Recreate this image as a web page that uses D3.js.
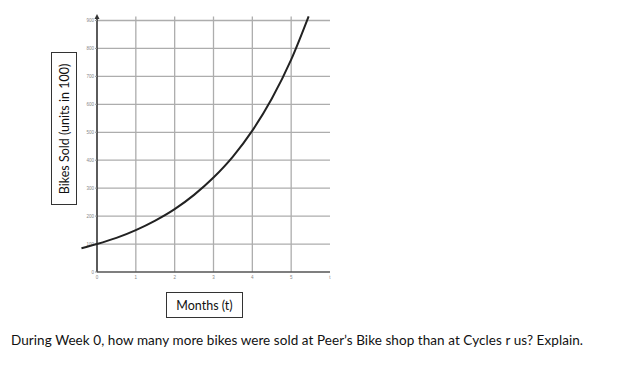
<!DOCTYPE html>
<html><head><meta charset="utf-8">
<script src="https://cdn.jsdelivr.net/npm/d3@7"></script>
<style>body{margin:0;background:#fff;}svg{display:block;}</style>
</head><body>
<script>
const xTicks = [0, 1, 2, 3, 4, 5];
const xTickLabels = ["0", "1", "2", "3", "4", "5"];
const yTicks = [0, 100, 200, 300, 400, 500, 600, 700, 800, 900];
const curveT = [-0.4, 0, 0.5, 1, 1.5, 2, 2.5, 3, 3.5, 4, 4.5, 5, 5.45];
const curveV = [85, 100, 122, 150, 184, 225, 276, 338, 413, 506, 620, 760, 915];
const yLabel = "Bikes Sold (units in 100)";
const xLabel = "Months (t)";
const question = "During Week 0, how many more bikes were sold at Peer\u2019s Bike shop than at Cycles r us? Explain.";

const W = 626, H = 386;
const svg = d3.select("body").append("svg").attr("width", W).attr("height", H);
const x = d3.scaleLinear().domain([0, 6]).range([97, 330]);
const y = d3.scaleLinear().domain([0, 900]).range([272, 20.5]);

// grid
svg.append("g").selectAll("line").data(yTicks.filter(d => d > 0)).join("line")
  .attr("x1", x(0)).attr("x2", x(6)).attr("y1", d => y(d)).attr("y2", d => y(d))
  .attr("stroke", "#adadad").attr("stroke-width", 1.3);
svg.append("g").selectAll("line").data(xTicks.filter(d => d > 0)).join("line")
  .attr("x1", d => x(d)).attr("x2", d => x(d)).attr("y1", y(0)).attr("y2", y(900) - 4)
  .attr("stroke", "#adadad").attr("stroke-width", 1.3);

// axes
svg.append("line").attr("x1", x(0)).attr("x2", x(0)).attr("y1", y(0)).attr("y2", 16)
  .attr("stroke", "#333").attr("stroke-width", 1.6);
svg.append("path").attr("d", `M${x(0)-2.5},${19} L${x(0)},${14} L${x(0)+2.5},${19} Z`).attr("fill", "#333");
svg.append("line").attr("x1", x(0)).attr("x2", x(6)).attr("y1", y(0)).attr("y2", y(0))
  .attr("stroke", "#555").attr("stroke-width", 1.4);

// tick labels
svg.append("g").selectAll("text").data(yTicks).join("text")
  .attr("x", x(0) - 3).attr("y", d => y(d) + 1.5).attr("text-anchor", "end")
  .attr("font-family", "Liberation Sans, Arial").attr("font-size", 4.5).attr("fill", "#888").text(d => d);
svg.append("g").selectAll("line").data(yTicks).join("line")
  .attr("x1", x(0) - 2).attr("x2", x(0)).attr("y1", d => y(d)).attr("y2", d => y(d)).attr("stroke", "#999");
svg.append("g").selectAll("text").data(xTicks).join("text")
  .attr("x", (d) => x(d)).attr("y", y(0) + 7).attr("text-anchor", "middle")
  .attr("font-family", "Liberation Sans, Arial").attr("font-size", 4.5).attr("fill", "#888")
  .text((d, i) => xTickLabels[i]);
svg.append("text").attr("x", x(6)).attr("y", y(0) + 7).attr("text-anchor", "middle")
  .attr("font-family", "Liberation Sans, Arial").attr("font-size", 4.5).attr("fill", "#888").text("t");

// curve
const line = d3.line().x((d, i) => x(curveT[i])).y(d => y(d)).curve(d3.curveMonotoneX);
svg.append("path").datum(curveV).attr("d", line).attr("fill", "none")
  .attr("stroke", "#222").attr("stroke-width", 2);

// y label box
svg.append("rect").attr("x", 51.5).attr("y", 52.5).attr("width", 25).attr("height", 152)
  .attr("fill", "#fff").attr("stroke", "#333").attr("stroke-width", 1);
svg.append("text").attr("transform", "translate(68.5,129) rotate(-90)").attr("text-anchor", "middle")
  .attr("font-family", "Lato, Open Sans, sans-serif").attr("font-size", 12.5).attr("fill", "#111").text(yLabel);

// x label box
svg.append("rect").attr("x", 166.5).attr("y", 292.5).attr("width", 76).attr("height", 25)
  .attr("fill", "#fff").attr("stroke", "#333").attr("stroke-width", 1);
svg.append("text").attr("x", 204.5).attr("y", 309.5).attr("text-anchor", "middle")
  .attr("font-family", "Lato, Open Sans, sans-serif").attr("font-size", 12.5).attr("fill", "#111").text(xLabel);

// question
svg.append("text").attr("x", 11).attr("y", 345).attr("textLength", 572)
  .attr("font-family", "Lato, Open Sans, sans-serif").attr("font-size", 13.5).attr("fill", "#111").text(question);
</script>
</body></html>
